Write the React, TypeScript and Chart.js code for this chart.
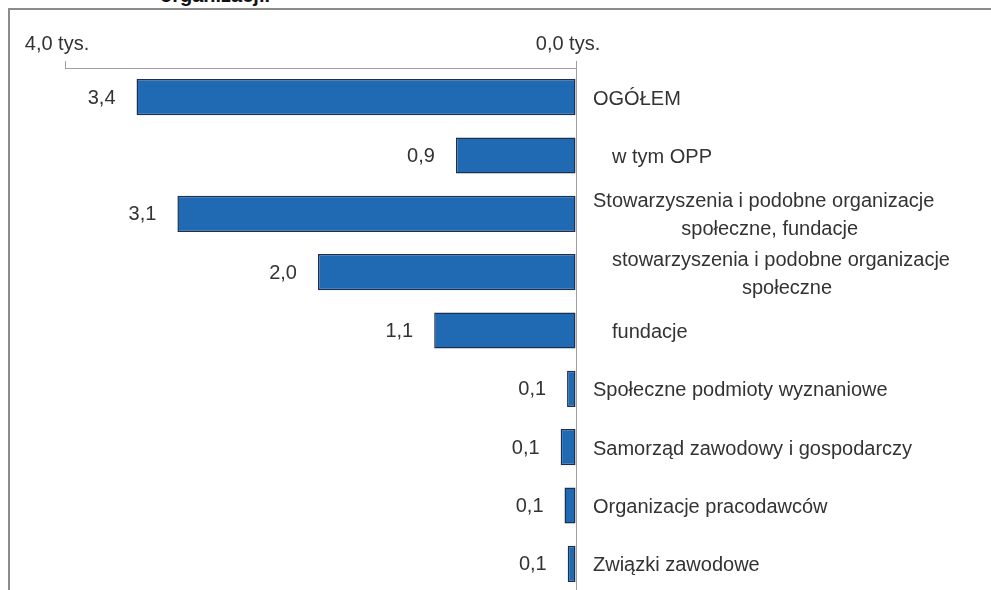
import React, { useEffect, useRef } from "react";
import { Chart, registerables } from "chart.js";

Chart.register(...registerables);

const categories: string[][] = [
  ["OGÓŁEM"],
  ["w tym OPP"],
  ["Stowarzyszenia i podobne organizacje", "społeczne, fundacje"],
  ["stowarzyszenia i podobne organizacje", "społeczne"],
  ["fundacje"],
  ["Społeczne podmioty wyznaniowe"],
  ["Samorząd zawodowy i gospodarczy"],
  ["Organizacje pracodawców"],
  ["Związki zawodowe"],
];
const isSubItem: boolean[] = [false, true, false, true, true, false, false, false, false];
const values: number[] = [3.44, 0.94, 3.12, 2.02, 1.11, 0.07, 0.12, 0.09, 0.065];
const tickValues: number[] = [4, 0];
const titleText = "organizacji.";

const FONT = "'Liberation Sans', Arial, sans-serif";
const TEXT_COLOR = "#333333";

const fmt = (v: number) => v.toFixed(1).replace(".", ",");

const labelsPlugin = {
  id: "customLabels",
  afterDatasetsDraw(chart: any) {
    const ctx = chart.ctx;
    const area = chart.chartArea;
    const meta = chart.getDatasetMeta(0);
    const yScale = chart.scales.y;
    ctx.save();
    ctx.font = `20px ${FONT}`;
    ctx.fillStyle = TEXT_COLOR;
    ctx.textBaseline = "middle";
    // value labels
    meta.data.forEach((el: any, i: number) => {
      const left = Math.min(el.x, el.base);
      ctx.textAlign = "right";
      ctx.fillText(fmt(values[i]), left - 21, el.y + 1);
    });
    // category labels
    categories.forEach((lines, i) => {
      const cy = yScale.getPixelForValue(i);
      const x0 = area.right + 17 + (isSubItem[i] ? 19 : 0);
      ctx.textAlign = "left";
      if (lines.length === 1) {
        ctx.fillText(lines[0], x0, cy + 2);
      } else {
        const w1 = ctx.measureText(lines[0]).width;
        ctx.fillText(lines[0], x0, cy - 12);
        ctx.textAlign = "center";
        ctx.fillText(lines[1], x0 + w1 / 2 + 6, cy + 16);
      }
    });
    ctx.restore();
  },
};

export default function App() {
  const ref = useRef<HTMLCanvasElement | null>(null);

  useEffect(() => {
    if (!ref.current) return;
    const chart = new Chart(ref.current, {
      type: "bar",
      data: {
        labels: categories.map((c) => c.join(" ")),
        datasets: [
          {
            data: values,
            backgroundColor: "#1f6ab3",
            borderColor: "#1b2f4f",
            borderWidth: 1.5,
            borderSkipped: false,
            barPercentage: 0.62,
            categoryPercentage: 1,
          },
        ],
      },
      options: {
        indexAxis: "y",
        animation: false,
        responsive: false,
        events: [],
        layout: { padding: { left: 55, right: 415, top: 0, bottom: 17 } },
        plugins: {
          legend: { display: false },
          tooltip: { enabled: false },
          title: { display: false },
        },
        scales: {
          x: {
            type: "linear",
            position: "top",
            min: 0,
            max: 4,
            reverse: true,
            afterBuildTicks: (scale: any) => {
              scale.ticks = tickValues.map((v) => ({ value: v }));
            },
            afterFit: (scale: any) => {
              scale.height = 58;
            },
            ticks: {
              autoSkip: false,
              maxRotation: 0,
              padding: 5,
              labelOffset: -8,
              color: TEXT_COLOR,
              font: { family: FONT, size: 20 },
              callback: (v: any) => `${fmt(Number(v))} tys.`,
            },
            grid: {
              display: true,
              drawOnChartArea: false,
              drawTicks: true,
              tickLength: 7,
              color: "#a0a0a0",
              lineWidth: 1,
            },
            border: { display: true, color: "#a0a0a0", width: 1 },
          },
          y: {
            type: "category",
            position: "right",
            ticks: { display: false },
            grid: { display: false, drawTicks: false },
            border: { display: true, color: "#a0a0a0", width: 1 },
            afterFit: (scale: any) => {
              scale.width = 0;
            },
          },
        },
      },
      plugins: [labelsPlugin],
    });
    return () => chart.destroy();
  }, []);

  return (
    <div
      style={{
        position: "fixed",
        left: 0,
        top: 0,
        width: 991,
        height: 590,
        overflow: "hidden",
        background: "#fff",
      }}
    >
      <div
        style={{
          position: "absolute",
          left: 160,
          top: -15,
          fontFamily: FONT,
          fontWeight: "bold",
          fontSize: 20,
          lineHeight: "20px",
          color: "#111",
          whiteSpace: "nowrap",
        }}
      >
        {titleText}
      </div>
      <div
        style={{
          position: "absolute",
          left: 8,
          top: 8,
          width: 983,
          height: 582,
          boxSizing: "border-box",
          borderTop: "2px solid #8c8c8c",
          borderLeft: "2px solid #8c8c8c",
          overflow: "hidden",
          background: "#fff",
        }}
      >
        <canvas ref={ref} width={981} height={600} style={{ display: "block" }} />
      </div>
    </div>
  );
}
